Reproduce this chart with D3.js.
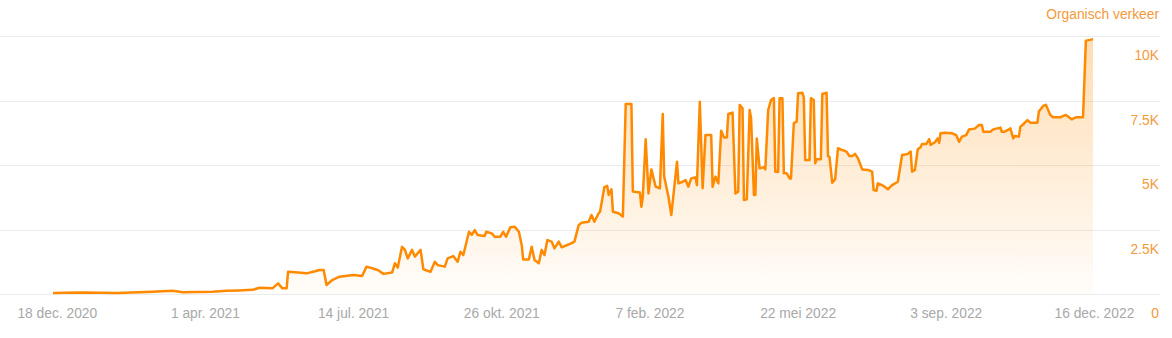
<!DOCTYPE html>
<html><head><meta charset="utf-8">
<script src="https://cdn.jsdelivr.net/npm/d3@7"></script>
<style>html,body{margin:0;padding:0;background:#fff;overflow:hidden}</style>
</head><body><svg id="chart" width="1172" height="338"></svg>
<script>
const seriesName = "Organisch verkeer";
const startDate = "2020-12-15";
const endDate = "2022-12-15";
const dayOffsets = [0,8,20,33,45,55,70,84,91,100,112,122,130,140,145,154,158,161,164,165,172,178,184,187,190,192,196,201,211,217,220,224,228,232,238,240,242,245,247,249,252,254,258,260,265,268,270,275,277,281,284,286,288,292,294,296,298,303,304,308,310,314,316,318,321,324,327,329,330,334,336,338,341,343,345,347,350,352,355,357,361,364,366,369,371,376,378,380,383,384,387,389,390,392,393,397,400,402,406,407,412,413,414,416,418,420,423,426,428,429,432,434,438,439,442,444,446,448,451,452,454,456,458,462,463,465,467,469,471,473,474,477,479,481,482,484,485,487,489,490,492,493,494,496,499,500,502,504,506,507,509,510,512,513,515,517,518,520,522,523,526,527,528,531,532,534,535,536,539,540,543,544,545,547,549,551,554,557,559,561,563,565,568,572,575,576,578,579,583,586,589,593,596,600,602,603,605,607,609,610,613,615,616,619,621,622,623,626,631,634,636,638,641,643,647,650,652,653,658,660,665,666,668,671,672,674,675,678,679,681,684,686,691,692,695,697,700,702,707,711,715,718,723,725,728,730];
const trafficValues = [40,50,60,50,40,60,90,130,70,80,90,130,140,160,240,220,410,220,220,860,830,800,880,930,930,350,540,670,740,700,1060,1000,930,780,830,1190,1030,1830,1710,1380,1710,1450,1710,960,860,1250,1120,1060,1380,1470,1250,1640,1510,2410,2290,2480,2290,2250,2410,2350,2220,2220,2410,2220,2590,2610,2410,1900,1340,1340,1830,1320,1190,1710,1510,2090,2030,1770,2030,1810,1900,1970,2030,2670,2760,2800,3060,2800,3130,3190,4140,4190,3840,4060,3190,3130,3000,7360,7360,3970,3930,3380,3770,6000,3900,4830,4160,4100,6980,4550,3770,3060,5130,4290,4350,4420,4160,4480,4520,4220,7450,4100,6160,6160,4160,4550,4290,6330,6070,6070,6980,7030,3900,3970,7330,7200,3640,3670,7130,6810,3840,3840,6030,4870,4910,4830,7130,7520,7590,4740,4740,7590,7590,4680,4680,4480,4480,6620,6680,7780,7800,7620,5190,5190,7590,7520,5070,5220,5220,7750,7800,5350,5320,4310,4450,5650,5580,5520,5350,5350,5430,5260,4830,4810,4740,4030,4000,4290,4190,4060,4220,4350,5390,5430,5520,4740,4810,5610,5690,5810,5810,6000,5780,5880,6030,5860,6230,6250,6230,6160,5900,6100,6160,6380,6410,6550,6550,6290,6290,6380,6450,6290,6290,6380,6420,6030,6120,6100,6480,6580,6740,6640,6640,7070,7290,7330,6940,6850,6850,6940,6770,6850,6850,9820,9850,9880];
const yTickValues = [0, 2500, 5000, 7500, 10000];
const yTickLabels = ["0", "2.5K", "5K", "7.5K", "10K"];
const xTickDates = ["2020-12-18","2021-04-01","2021-07-14","2021-10-26","2022-02-07","2022-05-22","2022-09-03","2022-12-16"];
const xTickLabels = ["18 dec. 2020","1 apr. 2021","14 jul. 2021","26 okt. 2021","7 feb. 2022","22 mei 2022","3 sep. 2022","16 dec. 2022"];

const parse = d3.utcParse("%Y-%m-%d");
const t0 = parse(startDate);
const data = dayOffsets.map((d, i) => ({date: d3.utcDay.offset(t0, d), value: trafficValues[i]}));

const svg = d3.select("#chart");
const font = "'Liberation Sans', Arial, sans-serif";
const fs = 13.8;
const x = d3.scaleUtc().domain([t0, parse(endDate)]).range([53, 1093]);
const y = d3.scaleLinear().domain([0, 10000]).range([294, 36]);

const defs = svg.append("defs");
const grad = defs.append("linearGradient").attr("id", "fillGrad")
  .attr("gradientUnits", "userSpaceOnUse").attr("x1", 0).attr("x2", 0)
  .attr("y1", y(10000)).attr("y2", y(0));
grad.append("stop").attr("offset", "0%").attr("stop-color", "#ff8c00").attr("stop-opacity", 0.3);
grad.append("stop").attr("offset", "100%").attr("stop-color", "#ff8c00").attr("stop-opacity", 0.02);

// grid
svg.append("g").selectAll("line").data(yTickValues).join("line")
  .attr("x1", 0).attr("x2", 1160)
  .attr("y1", d => Math.round(y(d)) + 0.5).attr("y2", d => Math.round(y(d)) + 0.5)
  .attr("stroke", "#ebebeb").attr("stroke-width", 1);

// area + line
svg.append("path").datum(data)
  .attr("d", d3.area().x(d => x(d.date)).y0(y(0)).y1(d => y(d.value)))
  .attr("fill", "url(#fillGrad)");
svg.append("path").datum(data)
  .attr("d", d3.line().x(d => x(d.date)).y(d => y(d.value)))
  .attr("fill", "none").attr("stroke", "#ff8a00").attr("stroke-width", 2.5)
  .attr("stroke-linejoin", "round");

// y labels
svg.append("g").selectAll("text").data(yTickValues).join("text")
  .attr("x", 1159).attr("y", d => y(d) + 24)
  .attr("text-anchor", "end").attr("font-family", font).attr("font-size", fs)
  .attr("fill", "#f39a3b").text((d, i) => yTickLabels[i]);

// x labels
svg.append("g").selectAll("text").data(xTickDates).join("text")
  .attr("x", d => x(parse(d))).attr("y", 318)
  .attr("text-anchor", "middle").attr("font-family", font).attr("font-size", fs)
  .attr("fill", "#a8a8a8").text((d, i) => xTickLabels[i]);

// series title
svg.append("text").attr("x", 1159).attr("y", 19).attr("text-anchor", "end")
  .attr("font-family", font).attr("font-size", fs).attr("fill", "#f39a3b").text(seriesName);
</script>
</body></html>
